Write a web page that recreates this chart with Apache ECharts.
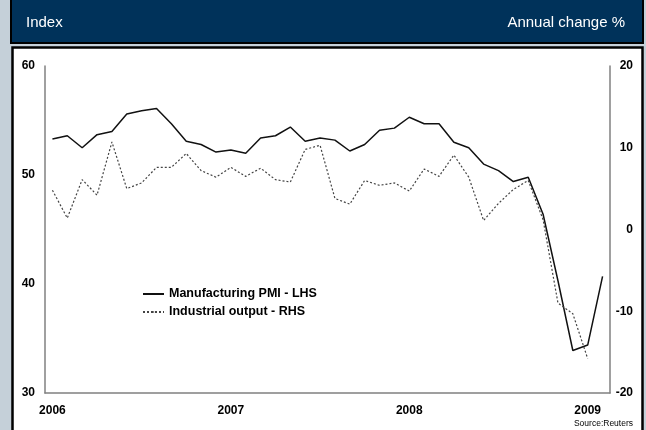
<!DOCTYPE html>
<html>
<head>
<meta charset="utf-8">
<script src="https://cdn.jsdelivr.net/npm/echarts@6/dist/echarts.min.js"></script>
<style>
  html, body { margin: 0; padding: 0; background: #c5d0d9; }
  #chart { width: 646px; height: 430px; }
</style>
</head>
<body>
<div id="chart"></div>
<script>
// monthly, Jan 2006 - Feb 2009
const months = [];
for (let y = 2006; y <= 2009; y++) {
    for (let m = 1; m <= 12; m++) {
        if (y === 2009 && m > 2) break;
        months.push(y + '-' + (m < 10 ? '0' + m : m));
    }
}

// Manufacturing PMI (index, LHS)
const pmi = [53.3, 53.6, 52.5, 53.7, 54.0, 55.6, 55.9, 56.1, 54.7, 53.1, 52.8, 52.1,
             52.3, 52.0, 53.4, 53.6, 54.4, 53.1, 53.4, 53.2, 52.2, 52.8, 54.1, 54.3,
             55.3, 54.7, 54.7, 53.0, 52.5, 51.0, 50.4, 49.4, 49.8, 46.4, 40.3, 33.9,
             34.4, 40.7];

// Industrial output (annual change %, RHS)
const output = [4.8, 1.4, 6.1, 4.2, 10.7, 5.0, 5.7, 7.6, 7.6, 9.3, 7.2, 6.4,
                7.6, 6.5, 7.5, 6.1, 5.8, 9.8, 10.3, 3.8, 3.1, 6.0, 5.4, 5.7,
                4.7, 7.4, 6.5, 9.1, 6.4, 1.1, 3.2, 4.9, 6.0, 1.2, -9.0, -10.3,
                -15.8];

const leftTicks = [30, 60, 10];
const rightTicks = [-20, 20, 10];

const font = 'Liberation Sans, Arial, sans-serif';

let chart = echarts.init(document.getElementById('chart'), null, {renderer: 'canvas'});
let option = {
    backgroundColor: '#c5d0d9',
    animation: false,
    graphic: [
        {
            type: 'rect', z: -10, silent: true,
            shape: {x: 11, y: -3, width: 632, height: 46},
            style: {fill: '#00325a', stroke: '#000', lineWidth: 2}
        },
        {
            type: 'rect', z: -10, silent: true,
            shape: {x: 12.5, y: 47.5, width: 630, height: 390},
            style: {fill: '#fff', stroke: '#000', lineWidth: 2.5}
        }
    ],
    title: [
        {
            text: 'Index', left: 21, top: 10,
            textStyle: {color: '#fff', fontSize: 15, fontWeight: 'normal', fontFamily: font}
        },
        {
            text: 'Annual change %', right: 16, top: 10,
            textStyle: {color: '#fff', fontSize: 15, fontWeight: 'normal', fontFamily: font}
        },
        {
            text: 'Source:Reuters', right: 13, top: 419, padding: 0,
            textStyle: {color: '#000', fontSize: 8.5, fontWeight: 'normal', fontFamily: font}
        }
    ],
    legend: {
        orient: 'vertical',
        left: 142,
        top: 287,
        padding: 0,
        itemWidth: 21,
        itemHeight: 2,
        itemGap: 4,
        textStyle: {color: '#000', fontSize: 12.5, fontWeight: 'bold', fontFamily: font, lineHeight: 14},
        data: ['Manufacturing PMI - LHS', 'Industrial output - RHS']
    },
    grid: {left: 45, right: 36, top: 66, bottom: 37},
    xAxis: {
        type: 'category',
        data: months,
        boundaryGap: true,
        axisLine: {onZero: false, lineStyle: {color: '#808080', width: 1.5}},
        axisTick: {show: false},
        axisLabel: {
            interval: function (i) { return i % 12 === 0; },
            formatter: function (v) { return v.slice(0, 4); },
            color: '#000', fontSize: 12, fontWeight: 'bold', fontFamily: font, margin: 12
        },
        splitLine: {show: false}
    },
    yAxis: [
        {
            type: 'value', min: leftTicks[0], max: leftTicks[1], interval: leftTicks[2],
            axisLine: {show: true, lineStyle: {color: '#808080', width: 1.5}},
            axisTick: {show: false},
            splitLine: {show: false},
            axisLabel: {color: '#000', fontSize: 12, fontWeight: 'bold', fontFamily: font, margin: 10}
        },
        {
            type: 'value', min: rightTicks[0], max: rightTicks[1], interval: rightTicks[2],
            position: 'right',
            axisLine: {show: true, lineStyle: {color: '#808080', width: 1.5}},
            axisTick: {show: false},
            splitLine: {show: false},
            axisLabel: {color: '#000', fontSize: 12, fontWeight: 'bold', fontFamily: font, margin: 23, align: 'right'}
        }
    ],
    series: [
        {
            name: 'Manufacturing PMI - LHS',
            type: 'line',
            yAxisIndex: 0,
            data: pmi,
            symbol: 'none',
            itemStyle: {color: '#111'},
            lineStyle: {color: '#111', width: 1.5}
        },
        {
            name: 'Industrial output - RHS',
            type: 'line',
            yAxisIndex: 1,
            data: output,
            symbol: 'none',
            itemStyle: {color: '#444'},
            lineStyle: {color: '#444', width: 1.2, type: [2, 2]}
        }
    ]
};
chart.setOption(option);
</script>
</body>
</html>
